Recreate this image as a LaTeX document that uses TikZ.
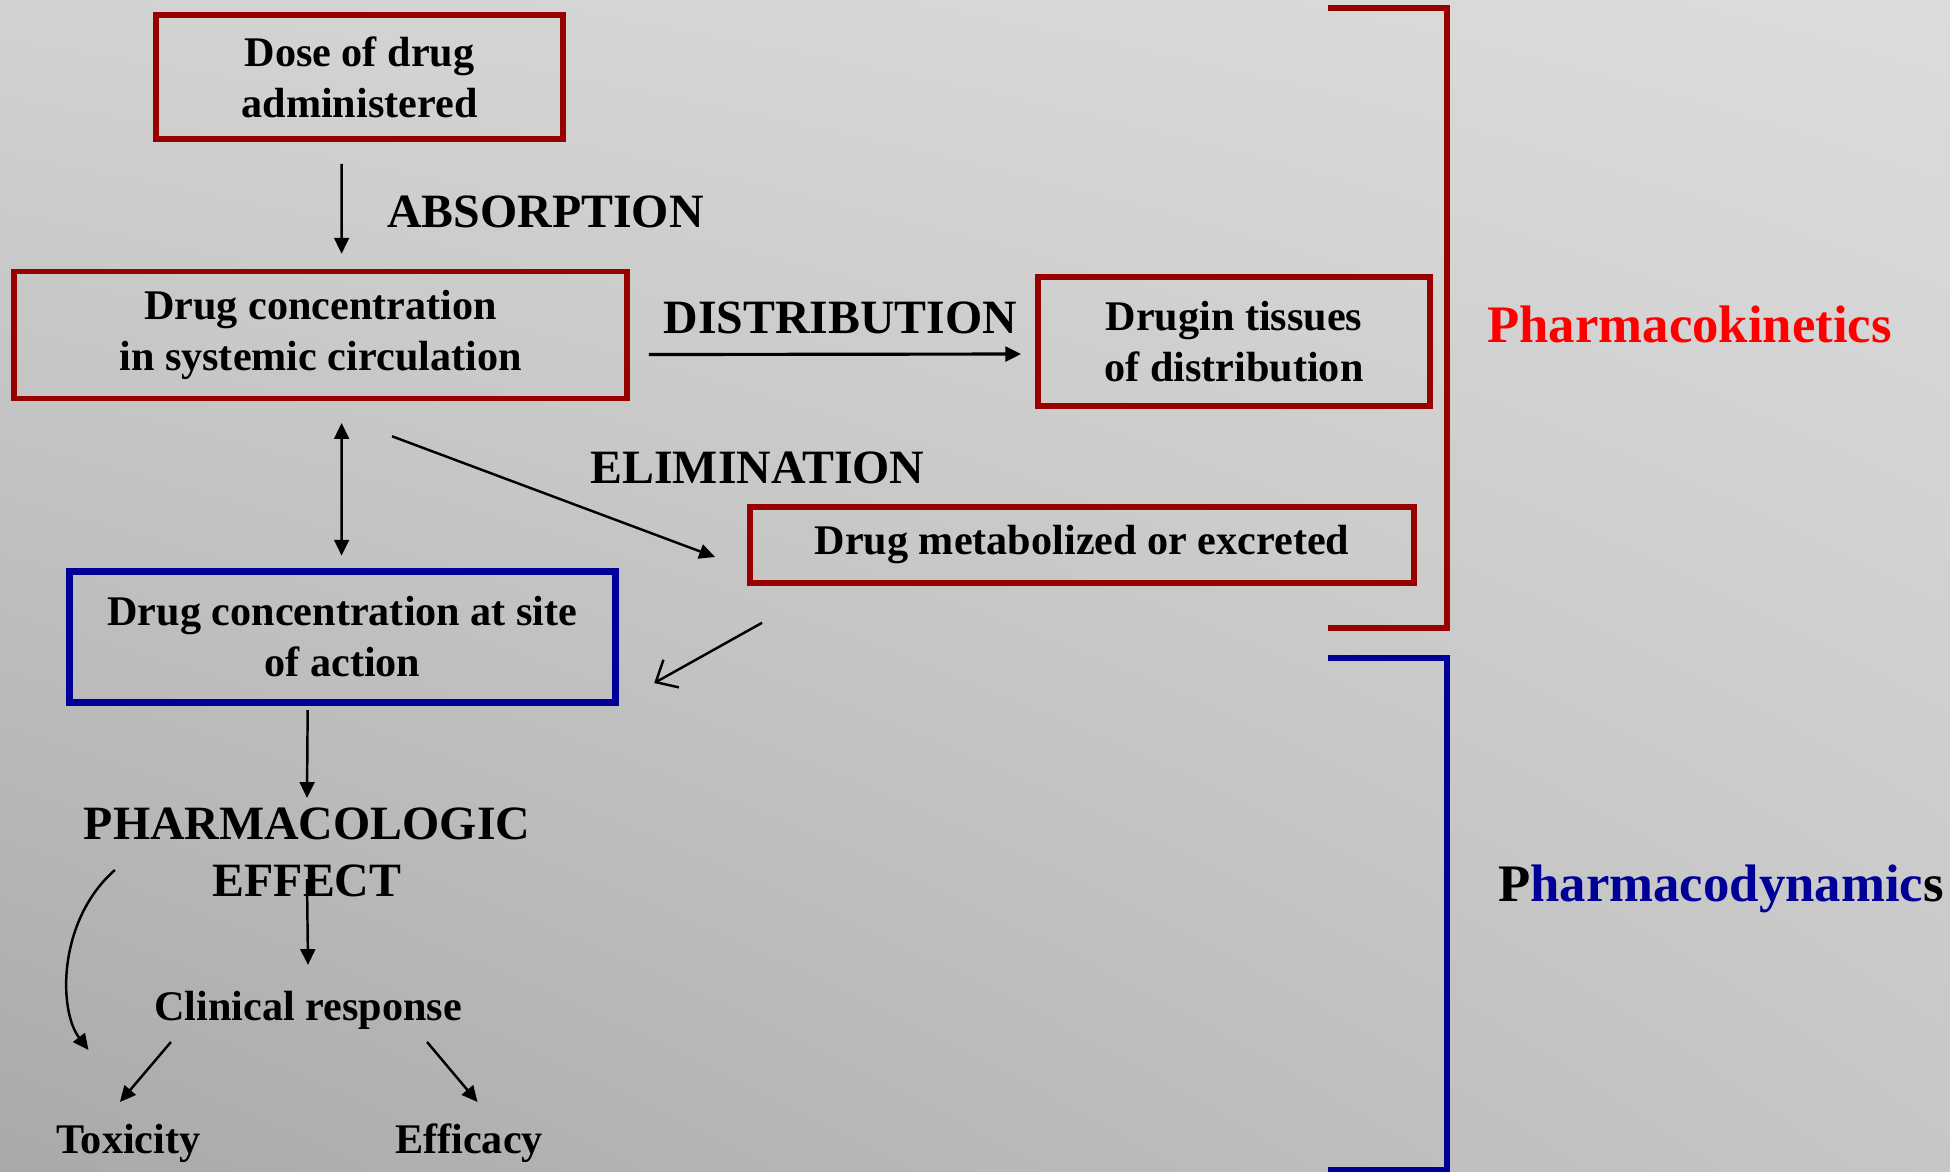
\documentclass[tikz,border=0pt]{standalone}
\usepackage{fontspec}
\setmainfont{Liberation Serif}
\usetikzlibrary{arrows.meta, shadings}

\definecolor{boxred}{HTML}{990000}
\definecolor{boxblue}{HTML}{000099}
\definecolor{kinred}{HTML}{FF0000}
\definecolor{bgtl}{HTML}{D2D2D2}
\definecolor{bgtr}{HTML}{DCDCDC}
\definecolor{bgbl}{HTML}{A9A9A9}
\definecolor{bgbr}{HTML}{C6C6C6}

\begin{document}
\begin{tikzpicture}[
        x=0.01cm, y=-0.01cm,
        stage/.style={draw=boxred, line width=1.55pt, align=center, inner sep=0pt,
            font=\fontsize{12}{14.5}\selectfont\bfseries},
        site/.style={stage, draw=boxblue, line width=2pt},
        phase/.style={inner sep=0pt, align=center, font=\fontsize{13.6}{16.2}\selectfont\bfseries},
        result/.style={inner sep=0pt, font=\fontsize{12}{14.5}\selectfont\bfseries},
        side/.style={inner sep=0pt, font=\fontsize{15}{18}\selectfont\bfseries},
        arrow/.style={-{Triangle[length=4.5pt, width=4.2pt]}, line width=0.7pt},
        twoway/.style={{Triangle[length=4.5pt, width=4.2pt]}-{Triangle[length=4.5pt, width=4.2pt]}, line width=0.7pt},
        barb/.style={-{Straight Barb[length=5pt, width=9pt]}, line width=0.7pt}
    ]
        % Background
        \useasboundingbox (0,0) rectangle (1950,1172);
        \shade[upper left=bgtl, upper right=bgtr, lower left=bgbl, lower right=bgbr]
            (0,0) rectangle (1950,1172);

        % Boxes
        \node[stage, minimum width=4.07cm, minimum height=1.24cm] (dose) at (359.5,77) {Dose of drug\\administered};
        \node[stage, minimum width=6.13cm, minimum height=1.27cm] (circ) at (320.5,335) {Drug concentration\\in systemic circulation};
        \node[stage, minimum width=3.92cm, minimum height=1.29cm] (tissue) at (1234,341.5) {Drugin tissues\\of distribution};
        \node[stage, minimum width=6.64cm, minimum height=0.76cm] (metab) at (1082,545) {Drug metabolized or excreted};
        \node[site, minimum width=5.46cm, minimum height=1.31cm] (action) at (342.5,637) {Drug concentration at site\\of action};

        % Labels
        \node[phase, anchor=base] (absorb) at (545.5,227) {ABSORPTION};
        \node[phase, anchor=base] (distrib) at (840.5,333) {DISTRIBUTION};
        \node[phase, anchor=base] (elim) at (757.5,483) {ELIMINATION};
        \node[phase] (effect) at (307,852) {PHARMACOLOGIC\\EFFECT};
        \node[result, anchor=base] (clin) at (308,1020) {Clinical response};
        \node[result, anchor=base] (tox) at (128.5,1153) {Toxicity};
        \node[result, anchor=base] (eff) at (469,1153) {Efficacy};
        \node[side, anchor=base, text=kinred] (kin) at (1689.5,342) {Pharmacokinetics};
        \node[side, anchor=base, text=boxblue] (dyn) at (1721,901)
            {\textcolor{black}{P}harmacodynamic\textcolor{black}{s}};

        % Brackets
        \draw[boxred, line width=1.5pt] (1328,8) -- (1447,8) -- (1447,628) -- (1328,628);
        \draw[boxblue, line width=1.5pt] (1328,658) -- (1447,658) -- (1447,1170) -- (1328,1170);

        % Pharmacokinetic arrows
        \draw[arrow] ([xshift=-1.79mm, yshift=-2.2mm]dose.south) -- ([xshift=2.11mm, yshift=1.5mm]circ.north);
        \draw[arrow, line width=0.9pt] ([xshift=1.9mm, yshift=-1.95mm]circ.east) -- ([xshift=-1.4mm, yshift=-1.25mm]tissue.west);
        \draw[arrow] ([xshift=7.15mm, yshift=-3.5mm]circ.south) -- ([xshift=-3.2mm, yshift=-1.2mm]metab.west);
        \draw[twoway] ([xshift=2.11mm, yshift=-2.17mm]circ.south) -- ([xshift=-0.09mm, yshift=1.23mm]action.north);
        \draw[barb] ([xshift=1.5mm, yshift=-3.7mm]metab.south west) -- ([xshift=3.5mm, yshift=-4.6mm]action.east);

        % Pharmacodynamic arrows
        \draw[arrow] ([xshift=-3.48mm, yshift=-0.4mm]action.south) -- ([yshift=5.4mm]effect.center);
        \draw[arrow] ([yshift=-2.7mm]effect.center) -- ([yshift=5.5mm]clin.base);
        \draw[arrow] ([xshift=-13.7mm, yshift=-2.2mm]clin.base) -- ([xshift=-0.85mm, yshift=5.1mm]tox.base);
        \draw[arrow] ([xshift=11.9mm, yshift=-2.2mm]clin.base) -- ([xshift=0.85mm, yshift=5.1mm]eff.base);
        \draw[arrow] ([xshift=-19.2mm, yshift=-1.8mm]effect.center)
            .. controls +(-57,50) and +(-30.5,-40) .. ([xshift=-4mm, yshift=10.3mm]tox.base);

    \end{tikzpicture}
\end{document}
